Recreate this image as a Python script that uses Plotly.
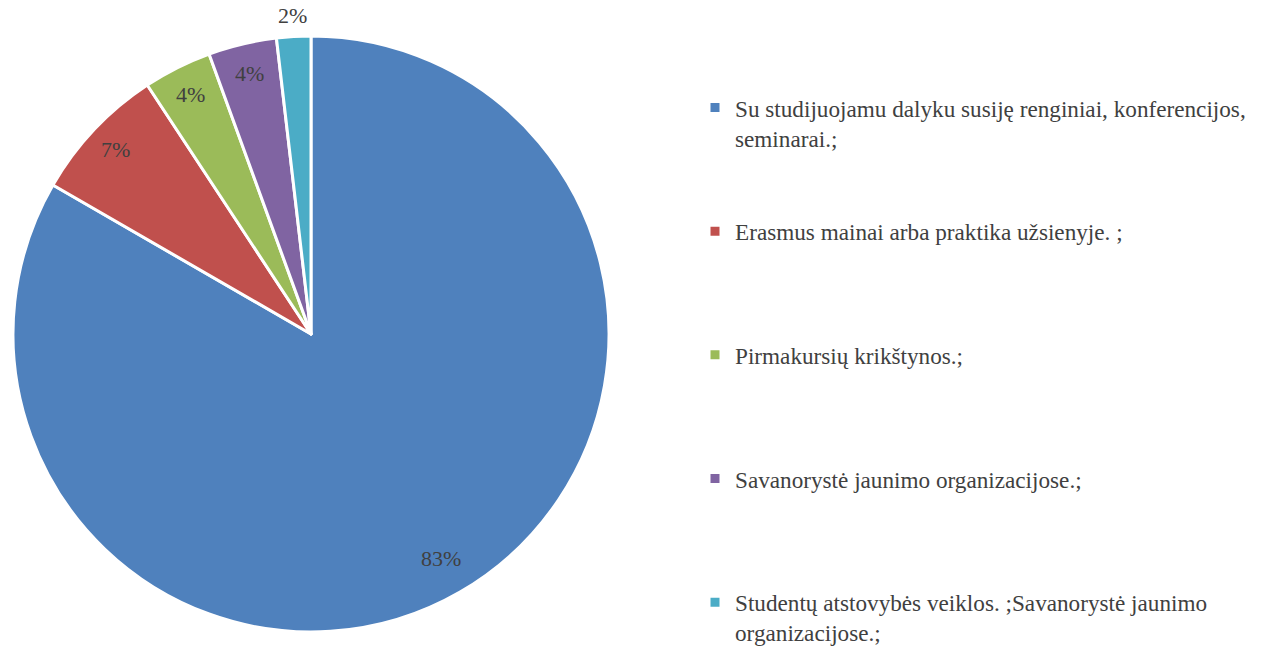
import math
import plotly.graph_objects as go

categories = [
    "Su studijuojamu dalyku susiję renginiai, konferencijos, seminarai.;",
    "Erasmus mainai arba praktika užsienyje. ;",
    "Pirmakursių krikštynos.;",
    "Savanorystė jaunimo organizacijose.;",
    "Studentų atstovybės veiklos. ;Savanorystė jaunimo organizacijose.;",
]
legend_lines = [
    ["Su studijuojamu dalyku susiję renginiai, konferencijos,", "seminarai.;"],
    ["Erasmus mainai arba praktika užsienyje. ;"],
    ["Pirmakursių krikštynos.;"],
    ["Savanorystė jaunimo organizacijose.;"],
    ["Studentų atstovybės veiklos. ;Savanorystė jaunimo", "organizacijose.;"],
]
counts = [45, 4, 2, 2, 1]
colors = ["#4F81BD", "#C0504D", "#9BBB59", "#8064A2", "#4BACC6"]

W, H = 1264, 646
FONT = "Liberation Serif"
TEXT_COLOR = "#404040"

# pie geometry (paper fractions)
cx, cy, R = 311, 334, 298
dom_x = [(cx - R) / W, (cx + R) / W]
dom_y = [(H - cy - R) / H, (H - cy + R) / H]

PAD_LINES = 4
labels = []
for i, lines in enumerate(legend_lines):
    n = PAD_LINES if i < len(legend_lines) - 1 else len(lines)
    pad = ["\u00a0"] * (n - len(lines))
    labels.append("<br>".join(lines + pad))

fig = go.Figure(
    go.Pie(
        labels=labels,
        values=counts,
        sort=False,
        direction="clockwise",
        rotation=0,
        marker=dict(colors=colors, line=dict(color="white", width=3)),
        textinfo="none",
        hoverinfo="label+percent",
        domain=dict(x=dom_x, y=dom_y),
    )
)

# percent labels placed along each slice's mid angle
total = sum(counts)
cum = 0
annotations = []
for i, v in enumerate(counts):
    frac = v / total
    mid = (cum + frac / 2) * 2 * math.pi
    cum += frac
    if frac > 0.5:
        r = 0.87 * R
    elif frac > 0.03:
        r = 0.90 * R
    else:
        r = 1.07 * R
    px = cx + r * math.sin(mid)
    py = cy - r * math.cos(mid)
    annotations.append(
        dict(
            x=px / W, y=1 - py / H, xref="paper", yref="paper",
            text=f"{round(frac * 100)}%", showarrow=False,
            font=dict(family=FONT, size=22, color=TEXT_COLOR),
            xanchor="center", yanchor="middle",
        )
    )

fig.update_layout(
    width=W, height=H,
    margin=dict(l=0, r=0, t=0, b=0, autoexpand=False),
    paper_bgcolor="white",
    plot_bgcolor="white",
    annotations=annotations,
    showlegend=True,
    legend=dict(
        x=695 / W, y=1 - 86 / H, xanchor="left", yanchor="top",
        font=dict(family=FONT, size=23.2, color=TEXT_COLOR),
        valign="top",
        traceorder="normal",
        bgcolor="rgba(0,0,0,0)",
        maxheight=1000,
    ),
)

fig.write_html(
    "out.html",
    config={"displayModeBar": False},
    post_script="document.body.style.margin='0';",
)
